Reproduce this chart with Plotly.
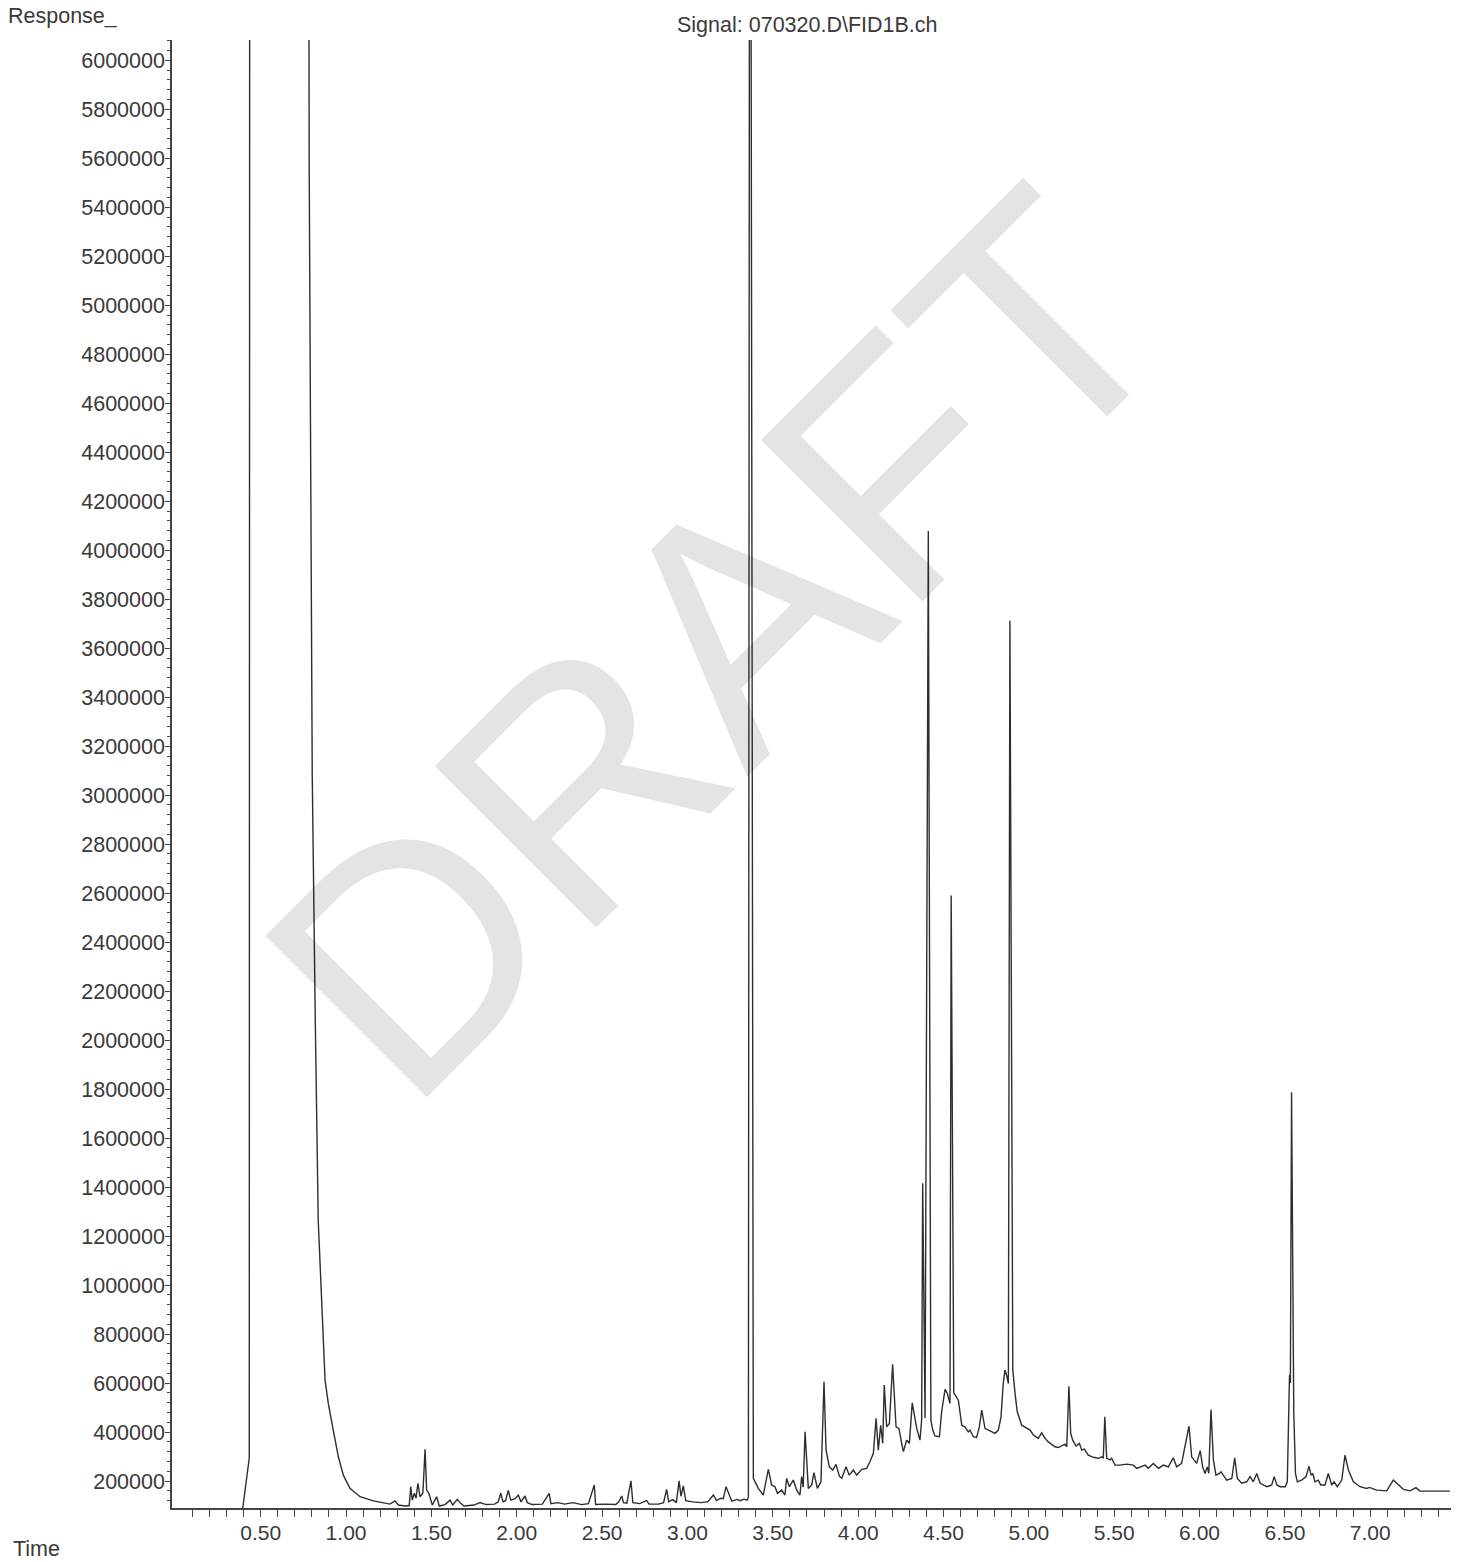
import plotly.graph_objects as go

# FID chromatogram: retention time (min) vs detector response
time_min = [
    0.395, 0.427, 0.433, 0.436, 0.779, 0.784, 0.802, 0.820, 0.827, 0.837,
    0.877, 0.896, 0.925, 0.955, 0.984, 1.023, 1.082, 1.160, 1.257, 1.287,
    1.306, 1.345, 1.370, 1.379, 1.388, 1.400, 1.410, 1.421, 1.433, 1.450,
    1.463, 1.472, 1.485, 1.505, 1.531, 1.546, 1.580, 1.609, 1.625, 1.652,
    1.670, 1.691, 1.750, 1.785, 1.820, 1.870, 1.892, 1.906, 1.920, 1.935,
    1.950, 1.965, 1.990, 2.009, 2.025, 2.048, 2.062, 2.090, 2.150, 2.190,
    2.200, 2.240, 2.280, 2.330, 2.380, 2.420, 2.454, 2.462, 2.520, 2.580,
    2.598, 2.615, 2.625, 2.645, 2.669, 2.680, 2.720, 2.761, 2.775, 2.830,
    2.860, 2.878, 2.890, 2.915, 2.935, 2.951, 2.962, 2.976, 2.990, 3.030,
    3.080, 3.120, 3.152, 3.170, 3.195, 3.210, 3.226, 3.240, 3.260, 3.290,
    3.310, 3.330, 3.350, 3.357, 3.364, 3.370, 3.386, 3.415, 3.444, 3.474,
    3.493, 3.513, 3.527, 3.552, 3.571, 3.581, 3.597, 3.620, 3.640, 3.659,
    3.669, 3.678, 3.689, 3.708, 3.728, 3.741, 3.761, 3.782, 3.800, 3.812,
    3.831, 3.851, 3.870, 3.890, 3.904, 3.929, 3.948, 3.972, 3.991, 4.021,
    4.050, 4.069, 4.089, 4.105, 4.118, 4.132, 4.144, 4.153, 4.167, 4.183,
    4.202, 4.222, 4.239, 4.255, 4.265, 4.284, 4.300, 4.317, 4.343, 4.362,
    4.372, 4.378, 4.392, 4.411, 4.426, 4.437, 4.450, 4.476, 4.489, 4.509,
    4.522, 4.538, 4.545, 4.560, 4.573, 4.587, 4.607, 4.626, 4.645, 4.655,
    4.675, 4.694, 4.710, 4.724, 4.743, 4.763, 4.782, 4.802, 4.821, 4.837,
    4.850, 4.860, 4.870, 4.880, 4.889, 4.906, 4.919, 4.932, 4.958, 4.977,
    5.007, 5.026, 5.055, 5.075, 5.095, 5.114, 5.134, 5.153, 5.173, 5.192,
    5.212, 5.222, 5.235, 5.245, 5.257, 5.276, 5.296, 5.310, 5.325, 5.348,
    5.378, 5.407, 5.427, 5.436, 5.445, 5.456, 5.476, 5.485, 5.505, 5.534,
    5.573, 5.612, 5.632, 5.681, 5.700, 5.729, 5.759, 5.788, 5.817, 5.846,
    5.866, 5.895, 5.920, 5.938, 5.954, 5.983, 6.004, 6.018, 6.032, 6.045,
    6.054, 6.067, 6.081, 6.096, 6.116, 6.126, 6.139, 6.159, 6.189, 6.206,
    6.221, 6.247, 6.276, 6.296, 6.315, 6.335, 6.355, 6.394, 6.423, 6.437,
    6.453, 6.472, 6.502, 6.514, 6.527, 6.532, 6.539, 6.552, 6.562, 6.573,
    6.598, 6.624, 6.641, 6.653, 6.663, 6.676, 6.696, 6.710, 6.735, 6.754,
    6.774, 6.788, 6.807, 6.833, 6.852, 6.872, 6.901, 6.940, 6.979, 6.995,
    7.038, 7.096, 7.135, 7.164, 7.194, 7.233, 7.268, 7.291, 7.369, 7.467,
]

response = [
    90000, 279000, 294000, 8000000, 8000000, 5590000, 3080000, 2070000, 1650000, 1265000,
    612000, 517000, 408000, 299000, 224000, 170000, 136000, 119000, 106000, 119000,
    102000, 98000, 100000, 177000, 122000, 150000, 130000, 191000, 136000, 150000,
    330000, 163000, 150000, 102000, 136000, 98000, 104000, 122000, 102000, 125000,
    110000, 98000, 102000, 112000, 104000, 106000, 115000, 150000, 115000, 120000,
    162000, 122000, 128000, 143000, 115000, 139000, 112000, 104000, 106000, 150000,
    108000, 112000, 106000, 112000, 104000, 108000, 184000, 104000, 106000, 104000,
    115000, 139000, 112000, 110000, 201000, 112000, 108000, 120000, 106000, 106000,
    112000, 166000, 116000, 124000, 112000, 201000, 138000, 180000, 120000, 115000,
    112000, 116000, 143000, 120000, 130000, 128000, 177000, 150000, 118000, 125000,
    120000, 126000, 122000, 135000, 7500000, 7500000, 211000, 170000, 143000, 248000,
    184000, 177000, 150000, 163000, 143000, 211000, 177000, 204000, 163000, 143000,
    218000, 175000, 401000, 170000, 184000, 234000, 170000, 197000, 605000, 326000,
    258000, 245000, 268000, 220000, 211000, 258000, 224000, 245000, 224000, 248000,
    252000, 279000, 313000, 456000, 326000, 428000, 354000, 592000, 421000, 435000,
    677000, 421000, 415000, 354000, 320000, 367000, 354000, 519000, 415000, 367000,
    450000, 1416000, 457000, 4079000, 449000, 408000, 384000, 381000, 483000, 574000,
    558000, 517000, 2590000, 560000, 544000, 530000, 428000, 421000, 401000, 408000,
    381000, 378000, 421000, 490000, 415000, 408000, 404000, 395000, 408000, 462000,
    598000, 653000, 632000, 598000, 3712000, 653000, 558000, 483000, 428000, 421000,
    408000, 388000, 374000, 397000, 374000, 360000, 350000, 340000, 337000, 343000,
    351000, 340000, 587000, 395000, 367000, 343000, 354000, 326000, 330000, 306000,
    297000, 293000, 299000, 293000, 462000, 293000, 286000, 293000, 265000, 265000,
    269000, 265000, 252000, 265000, 252000, 272000, 252000, 265000, 258000, 295000,
    258000, 272000, 367000, 424000, 299000, 272000, 324000, 258000, 231000, 258000,
    231000, 492000, 286000, 224000, 231000, 238000, 224000, 204000, 211000, 295000,
    211000, 191000, 197000, 218000, 197000, 231000, 191000, 177000, 184000, 218000,
    184000, 177000, 177000, 197000, 633000, 600000, 1787000, 480000, 230000, 197000,
    204000, 218000, 261000, 224000, 231000, 197000, 204000, 184000, 184000, 231000,
    184000, 197000, 177000, 204000, 306000, 245000, 197000, 177000, 170000, 174000,
    163000, 160000, 204000, 184000, 166000, 160000, 173000, 159000, 159000, 159000,
]

y_tick_values = list(range(200000, 6000001, 200000))
x_tick_values = [0.5, 1.0, 1.5, 2.0, 2.5, 3.0, 3.5, 4.0, 4.5, 5.0, 5.5, 6.0, 6.5, 7.0]
x_tick_text = [f"{v:.2f}" for v in x_tick_values]
x_minor_values = [round(i * 0.1, 1) for i in range(1, 75) if i % 5]

FONT = "Liberation Sans, Arial, sans-serif"
INK = "#3a3a3a"
AXIS = "#444444"

fig = go.Figure(
    go.Scatter(
        x=time_min,
        y=response,
        mode="lines",
        line=dict(color="#2e2e2e", width=1.4),
        hoverinfo="skip",
    )
)

fig.update_layout(
    width=1459,
    height=1562,
    margin=dict(l=172, r=8, t=40, b=54),
    paper_bgcolor="white",
    plot_bgcolor="white",
    showlegend=False,
    font=dict(family=FONT, size=21.5, color=INK),
)

fig.update_xaxes(
    range=[-0.0196, 7.473],
    showgrid=False,
    zeroline=False,
    showline=True,
    linecolor=AXIS,
    linewidth=1.5,
    ticks="outside",
    ticklen=7,
    tickwidth=1.2,
    tickcolor=AXIS,
    tickmode="array",
    tickvals=x_tick_values,
    ticktext=x_tick_text,
    ticklabelstandoff=-2,
    tickfont=dict(family=FONT, size=21, color=INK),
    minor=dict(
        tickmode="array",
        tickvals=x_minor_values,
        ticks="outside",
        ticklen=7,
        tickwidth=1.2,
        tickcolor=AXIS,
        showgrid=False,
    ),
)

fig.update_yaxes(
    range=[90000, 6083000],
    showgrid=False,
    zeroline=False,
    showline=True,
    linecolor=AXIS,
    linewidth=1.5,
    ticks="outside",
    ticklen=5,
    tickwidth=1.2,
    tickcolor=AXIS,
    tickmode="array",
    tickvals=y_tick_values,
    tickformat="d",
    ticklabelstandoff=-4,
    tickfont=dict(family=FONT, size=21.5, color=INK),
    minor=dict(
        dtick=40000,
        tick0=0,
        ticks="outside",
        ticklen=3,
        tickwidth=1,
        tickcolor=AXIS,
        showgrid=False,
    ),
)

fig.add_annotation(
    text="DRAFT",
    xref="paper", yref="paper",
    x=0.4263, y=0.5888,
    xanchor="center", yanchor="middle",
    textangle=-45,
    showarrow=False,
    font=dict(family=FONT, size=332, color="rgba(0,0,0,0.105)"),
)

fig.add_annotation(
    text="Signal: 070320.D\\FID1B.ch",
    xref="paper", yref="paper",
    x=0.4969, y=1.0102,
    xanchor="center", yanchor="middle",
    showarrow=False,
    font=dict(family=FONT, size=21.5, color=INK),
)

fig.add_annotation(
    text="Response_",
    xref="paper", yref="paper",
    x=-0.1298, y=1.0163,
    xanchor="left", yanchor="middle",
    showarrow=False,
    font=dict(family=FONT, size=21.5, color=INK),
)

fig.add_annotation(
    text="Time",
    xref="paper", yref="paper",
    x=-0.1259, y=-0.0279,
    xanchor="left", yanchor="middle",
    showarrow=False,
    font=dict(family=FONT, size=21.5, color=INK),
)

fig.write_html("out.html")
